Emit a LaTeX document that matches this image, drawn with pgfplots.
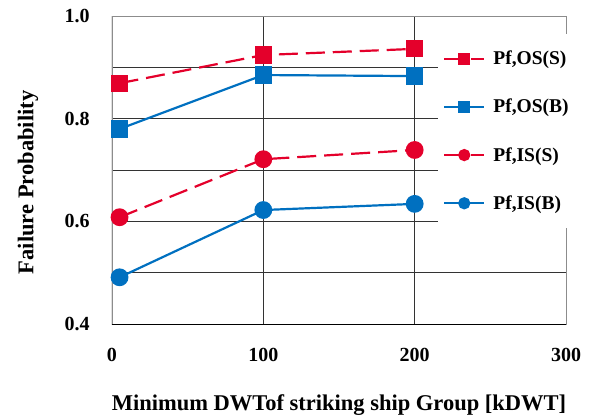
\documentclass[border=0pt]{standalone}
\usepackage{fontspec}
\setmainfont{Liberation Serif}
\usepackage{pgfplots}
\pgfplotsset{compat=1.18}
\definecolor{cred}{RGB}{228,0,43}
\definecolor{cblue}{RGB}{0,112,192}
\begin{document}
\begin{tikzpicture}
\path[use as bounding box] (-112bp,-95bp) rectangle (482bp,324bp);
\begin{axis}[
  scale only axis, width=454bp, height=308bp,
  xmin=0, xmax=300, ymin=0.4, ymax=1.0,
  xtick={0,100,200,300}, ytick={0.4,0.6,0.8,1.0},
  minor xtick={100,200}, minor ytick={0.5,0.6,0.7,0.8,0.9},
  xminorgrids, yminorgrids,
  minor grid style={black!80, line width=0.8bp},
  major tick length=0pt, minor tick length=0pt,
  axis line style={draw=black!45, line width=0.8bp},
  yticklabel style={/pgf/number format/.cd, fixed, fixed zerofill, precision=1, /tikz/.cd, xshift=-18bp},
  xticklabel style={yshift=-20bp},
  /pgf/number format/assume math mode=true,
  tick label style={font=\fontsize{20bp}{24bp}\selectfont\bfseries},
  xlabel={Minimum DWTof striking ship Group [kDWT]},
  ylabel={Failure Probability},
  every axis x label/.style={at={(axis description cs:0.5,-0.263)}, anchor=center, font=\fontsize{22.5bp}{26bp}\selectfont\bfseries},
  every axis y label/.style={at={(axis description cs:-0.185,0.46)}, rotate=90, anchor=center, font=\fontsize{22.5bp}{26bp}\selectfont\bfseries},
  legend style={at={(rel axis cs:0.716,0.945)}, anchor=north west, draw=none, fill=white,
    inner xsep=5bp, inner ysep=15bp, row sep=29bp,
    font=\fontsize{19.5bp}{22bp}\selectfont\bfseries,
    /tikz/every odd column/.append style={column sep=6bp}},
  legend cell align=left,
  legend image code/.code={\draw[mark repeat=2,mark phase=2,mark size=5bp] plot coordinates {(0bp,0bp)(20bp,0bp)(40bp,0bp)};},
  line width=2.2bp,
]
\addplot[cred, dash pattern=on 19bp off 8bp, mark=square*, mark size=7.5bp, mark options={solid}] coordinates {(5,0.869) (100,0.924) (200,0.936)};
\addlegendentry{Pf,OS(S)}
\addplot[cblue, solid, mark=square*, mark size=7.5bp] coordinates {(5,0.780) (100,0.885) (200,0.883)};
\addlegendentry{Pf,OS(B)}
\addplot[cred, dash pattern=on 19bp off 8bp, mark=*, mark size=7.8bp, mark options={solid}] coordinates {(5,0.608) (100,0.721) (200,0.739)};
\addlegendentry{Pf,IS(S)}
\addplot[cblue, solid, mark=*, mark size=7.8bp] coordinates {(5,0.491) (100,0.622) (200,0.634)};
\addlegendentry{Pf,IS(B)}
\draw[black, line width=1bp] (rel axis cs:0,1) -- (rel axis cs:0,0) -- (rel axis cs:1,0);
\end{axis}
\end{tikzpicture}
\end{document}
